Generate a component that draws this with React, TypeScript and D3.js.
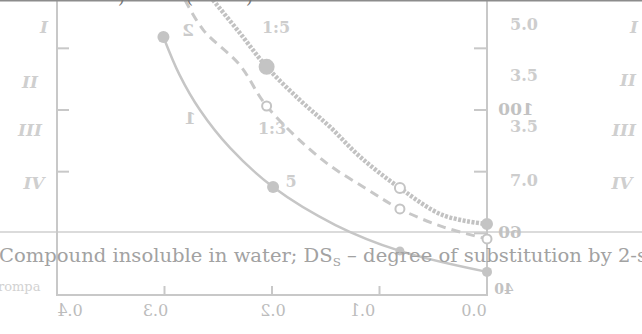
import * as d3 from 'd3';
import React, { useRef, useEffect } from 'react';

const W = 642;
const H = 334;

// the plot is seen mirrored through the paper, so x runs 0.4 -> 0.0
const xTicks = [0.4, 0.3, 0.2, 0.1, 0.0];
const xTickLabels = ['0.4', '0.3', '0.2', '0.1', '0.0'];
const xLabelShift = [13, -9, 1, -17, -13];
const yTicks = [120, 100, 80, 60];
const yTickLabels = [
  { v: 100, t: '100' },
  { v: 60, t: '60' },
  { v: 40, t: '40' },
];

// curve traces (DS, viscosity-like value)
const curveA = [
  [0.301, 123.7], [0.286, 111.4], [0.267, 100.0], [0.239, 87.7],
  [0.199, 75.0], [0.141, 62.7], [0.081, 54.3], [0.0, 47.5],
];
const curveB = [
  [0.281, 135.7], [0.264, 126.0], [0.23, 114.6], [0.205, 101.3],
  [0.153, 83.8], [0.112, 74.4], [0.081, 67.9], [0.041, 62.1], [0.0, 58.2],
];
const curveC = [
  [0.255, 135.7], [0.23, 125.0], [0.205, 114.0], [0.174, 103.2],
  [0.146, 94.5], [0.118, 84.8], [0.081, 74.7], [0.041, 65.9], [0.0, 63.0],
];

const markersA = [[0.301, 123.7, 6], [0.199, 75.0, 6], [0.081, 54.3, 4.5], [0.0, 47.5, 5]];
const markersB = [[0.205, 101.3], [0.081, 67.9], [0.0, 58.2]];
const markersC = [[0.205, 114.0, 7, true], [0.081, 74.7, 5, false], [0.0, 63.0, 5, true]];

// text showing through from the other side of the sheet
const tableValues = [
  { t: '5.0', y: 30 },
  { t: '3.5', y: 81 },
  { t: '3.5', y: 132 },
  { t: '7.0', y: 186 },
];
const romanLeft = [
  { t: 'I', x: 44, y: 33 },
  { t: 'II', x: 30, y: 88 },
  { t: 'III', x: 30, y: 136 },
  { t: 'IV', x: 34, y: 189 },
];
const romanRight = [
  { t: 'I', x: 634, y: 33 },
  { t: 'II', x: 628, y: 86 },
  { t: 'III', x: 624, y: 136 },
  { t: 'IV', x: 622, y: 189 },
];

const App = () => {
  const containerRef = useRef<HTMLDivElement>(null);

  useEffect(() => {
    if (!containerRef.current) return;
    document.body.style.margin = '0';
    d3.select(containerRef.current).selectAll('*').remove();

    const svg = d3
      .select(containerRef.current)
      .append('svg')
      .attr('width', W)
      .attr('height', H)
      .style('display', 'block')
      .style('background', '#fff');

    const x = d3.scaleLinear().domain([0.4, 0]).range([57, 487]);
    const y = d3.scaleLinear().domain([40, 100]).range([295, 110]);

    const grey = '#c8c8c8';
    const serif = "'DejaVu Serif', 'Liberation Serif', serif";

    // faint rule of the table on the front side
    svg.append('line')
      .attr('x1', 0).attr('x2', W).attr('y1', 232).attr('y2', 232)
      .attr('stroke', '#cfcfcf').attr('stroke-width', 1.5);

    // front side table text
    svg.append('g').selectAll('text').data(tableValues).join('text')
      .attr('x', 524).attr('y', d => d.y)
      .attr('text-anchor', 'middle')
      .attr('font-family', serif).attr('font-weight', 'bold').attr('font-size', 16)
      .attr('fill', '#cdcdcd')
      .text(d => d.t);

    svg.append('g').selectAll('text').data([...romanLeft, ...romanRight]).join('text')
      .attr('x', d => d.x).attr('y', d => d.y)
      .attr('text-anchor', 'middle')
      .attr('font-family', serif).attr('font-style', 'italic').attr('font-weight', 'bold')
      .attr('font-size', 17)
      .attr('fill', '#cfcfcf')
      .text(d => d.t);

    svg.append('text').attr('x', 276).attr('y', 33).attr('text-anchor', 'middle')
      .attr('font-family', serif).attr('font-weight', 'bold').attr('font-size', 16)
      .attr('fill', '#cdcdcd').text('1:5');
    svg.append('text').attr('x', 272).attr('y', 134).attr('text-anchor', 'middle')
      .attr('font-family', serif).attr('font-weight', 'bold').attr('font-size', 16)
      .attr('fill', '#cdcdcd').text('1:3');
    svg.append('text').attr('x', 291).attr('y', 187).attr('text-anchor', 'middle')
      .attr('font-family', serif).attr('font-weight', 'bold').attr('font-size', 16)
      .attr('fill', '#cdcdcd').text('5');

    // axes frame
    const frame = svg.append('g').attr('stroke', grey).attr('stroke-width', 2).attr('fill', 'none');
    frame.append('line').attr('x1', x(0.4)).attr('x2', x(0.4)).attr('y1', 0).attr('y2', y(40));
    frame.append('line').attr('x1', x(0)).attr('x2', x(0)).attr('y1', 0).attr('y2', y(40));
    frame.append('line').attr('x1', x(0.4) - 1).attr('x2', x(0) + 1).attr('y1', y(40)).attr('y2', y(40));

    // inner ticks
    frame.selectAll('.xt').data(xTicks.slice(1, 4)).join('line').attr('class', 'xt')
      .attr('x1', d => x(d)).attr('x2', d => x(d)).attr('y1', y(40)).attr('y2', y(40) - 9);
    frame.selectAll('.ylt').data(yTicks.slice(0, 3)).join('line').attr('class', 'ylt')
      .attr('x1', x(0.4)).attr('x2', x(0.4) + 12).attr('y1', d => y(d)).attr('y2', d => y(d));
    frame.selectAll('.yrt').data(yTicks).join('line').attr('class', 'yrt')
      .attr('x1', x(0)).attr('x2', x(0) - 13).attr('y1', d => y(d)).attr('y2', d => y(d));

    // mirrored tick labels
    svg.append('g').selectAll('g').data(xTicks).join('g')
      .attr('transform', (d, i) => `translate(${x(d) + xLabelShift[i]},316) scale(-1,1)`)
      .append('text')
      .attr('text-anchor', 'middle')
      .attr('font-family', serif).attr('font-size', 16)
      .attr('fill', '#bcbcbc')
      .text((d, i) => xTickLabels[i]);

    svg.append('g').selectAll('g').data(yTickLabels).join('g')
      .attr('transform', d => `translate(${d.v === 100 ? 516 : d.v === 60 ? 510 : 504},${y(d.v) + (d.v === 40 ? -1 : 5)}) scale(-1,1)`)
      .append('text')
      .attr('text-anchor', 'middle')
      .attr('font-family', serif).attr('font-weight', 'bold').attr('font-size', d => (d.v === 40 ? 14 : 17))
      .attr('fill', '#c2c2c2')
      .text(d => d.t);

    const line = d3.line<number[]>()
      .x(d => x(d[0]))
      .y(d => y(d[1]))
      .curve(d3.curveCatmullRom.alpha(0.5));

    const curves = svg.append('g').attr('fill', 'none').attr('stroke-linecap', 'round');
    curves.append('path').attr('d', line(curveA))
      .attr('stroke', '#c6c6c6').attr('stroke-width', 2.5);
    curves.append('path').attr('d', line(curveB))
      .attr('stroke', '#c8c8c8').attr('stroke-width', 3)
      .attr('stroke-dasharray', '9 6').attr('stroke-linecap', 'butt');
    curves.append('path').attr('d', line(curveC))
      .attr('stroke', '#c2c2c2').attr('stroke-width', 4.5)
      .attr('stroke-dasharray', '3 1.5').attr('stroke-linecap', 'butt');

    // markers
    svg.append('g').selectAll('circle').data(markersA).join('circle')
      .attr('cx', d => x(d[0])).attr('cy', d => y(d[1])).attr('r', d => d[2])
      .attr('fill', '#c4c4c4');
    svg.append('g').selectAll('circle').data(markersB).join('circle')
      .attr('cx', d => x(d[0])).attr('cy', d => y(d[1])).attr('r', 4.5)
      .attr('fill', '#fff').attr('stroke', '#c4c4c4').attr('stroke-width', 2);
    svg.append('g').selectAll('circle').data(markersC).join('circle')
      .attr('cx', d => x(d[0] as number)).attr('cy', d => y(d[1] as number)).attr('r', d => d[2] as number)
      .attr('fill', d => (d[3] ? '#c4c4c4' : '#fff'))
      .attr('stroke', '#c4c4c4').attr('stroke-width', 2);

    // curve numbers, mirrored
    const nums = [
      { t: '2', x: 188, y: 36 },
      { t: '1', x: 190, y: 124 },
    ];
    svg.append('g').selectAll('g').data(nums).join('g')
      .attr('transform', d => `translate(${d.x},${d.y}) scale(-1,1)`)
      .append('text')
      .attr('text-anchor', 'middle')
      .attr('font-family', serif).attr('font-weight', 'bold').attr('font-size', 17)
      .attr('fill', '#cbcbcb')
      .text(d => d.t);

    // front side caption lines
    const cap = svg.append('text')
      .attr('x', -1).attr('y', 262)
      .attr('font-family', serif).attr('font-size', 18)
      .attr('fill', '#a2a2a2');
    cap.append('tspan').text('Compound insoluble in water; DS');
    cap.append('tspan').attr('font-size', 11).attr('dy', 4).text('S');
    cap.append('tspan').attr('dy', -4).text(' – degree of substitution by 2-s');
    cap.attr('textLength', 648).attr('lengthAdjust', 'spacingAndGlyphs');

    svg.append('text').attr('x', -2).attr('y', 291)
      .attr('font-family', serif).attr('font-size', 13)
      .attr('fill', '#d2d2d2').text('rompa');

    // cut-off line of print at the very top
    svg.append('rect').attr('x', 0).attr('y', 0).attr('width', W).attr('height', 1.5)
      .attr('fill', '#8c8c8c');
    svg.append('g').selectAll('text').data([{ t: ')', x: 118 }, { t: '(', x: 186 }, { t: ')', x: 246 }]).join('text')
      .attr('x', d => d.x).attr('y', 3)
      .attr('font-family', serif).attr('font-size', 18)
      .attr('fill', '#777')
      .text(d => d.t);
  }, [containerRef]);

  return <div ref={containerRef}></div>;
};

export default App;
